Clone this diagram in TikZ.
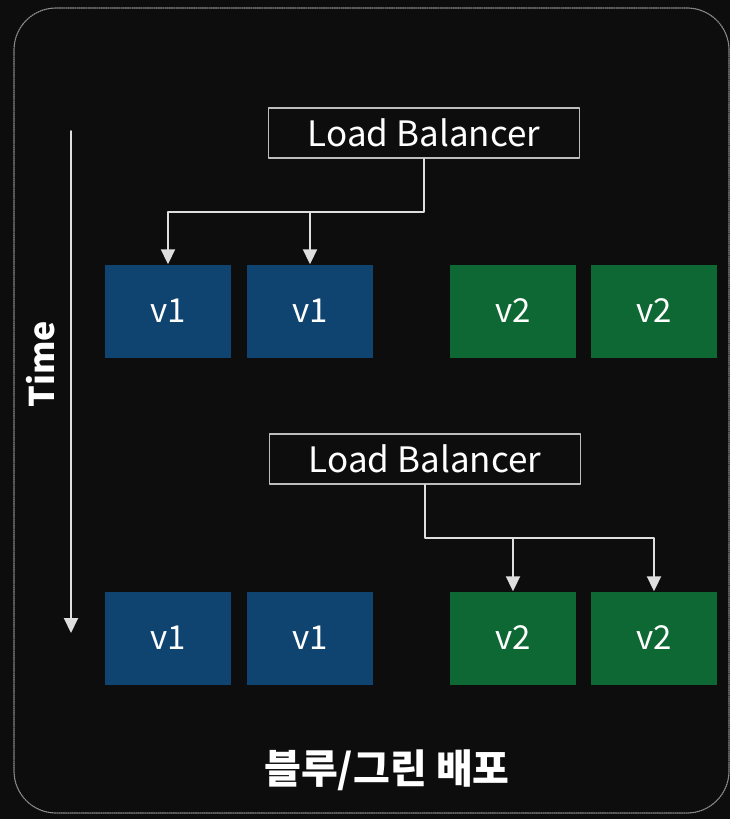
\documentclass[tikz,border=0pt]{standalone}
\usepackage{fontspec}
\setmainfont{Noto Sans CJK KR}
\usetikzlibrary{arrows.meta}

\definecolor{bgdark}{RGB}{13,13,13}
\definecolor{boxblue}{RGB}{15,68,112}
\definecolor{boxgreen}{RGB}{14,104,52}
\definecolor{wiregray}{RGB}{222,222,222}
\definecolor{framegray}{RGB}{140,140,140}

\tikzset{
  lbbox/.style={draw=wiregray!85!black, line width=1.5pt, minimum width=311pt, minimum height=50pt,
    inner sep=0pt, text=white, font=\fontsize{35}{40}\selectfont},
  verbox/.style={minimum width=126pt, minimum height=93pt, inner sep=0pt, text=white,
    font=\fontsize{33}{38}\selectfont},
  wire/.style={wiregray, line width=1.9pt}
}

\begin{document}
\begin{tikzpicture}[x=1pt, y=-1pt, line cap=round, line join=round, >={Triangle[width=14pt,length=15pt]}]
	% Canvas and viewing box
	\fill[bgdark] (0,0) rectangle (730,819);
	\useasboundingbox (0,0) rectangle (730,819);
	
	% Dotted frame round the whole picture
	\draw[framegray, line width=1.2pt, densely dotted, rounded corners=42pt] (14,8) rectangle (729,813);
	
	% Time axis
	\coordinate (t0) at (71,131);
	\coordinate (t1) at (71,633);
	\draw[wire, ->] (t0) -- (t1);
	\node[rotate=90, text=white, font=\fontsize{34}{38}\selectfont\bfseries] (time) at (41,364) {Time};
	
	% Load balancers
	\node[lbbox] (lb1) at (424,133) {Load Balancer};
	\node[lbbox] (lb2) at (425,459) {Load Balancer};
	
	% Versions: top row before, bottom row after the switch
	\foreach \r/\y in {1/311, 2/638} {
		\node[verbox, fill=boxblue] (b\r1) at (168,\y) {v1};
		\node[verbox, fill=boxblue] (b\r2) at (310,\y) {v1};
		\node[verbox, fill=boxgreen] (g\r1) at (513,\y) {v2};
		\node[verbox, fill=boxgreen] (g\r2) at (654,\y) {v2};
	}
	
	% Traffic to blue
	\coordinate (j1) at (b11.north |- 0,212);
	\draw[wire, ->] (lb1.south) |- (j1) -- (b11.north);
	\draw[wire, ->] (b12.north |- j1) -- (b12.north);
	
	% Traffic to green
	\coordinate (j2) at (g22.north |- 0,538);
	\draw[wire, ->] (lb2.south) |- (j2) -- (g22.north);
	\draw[wire, ->] (g21.north |- j2) -- (g21.north);
	
	% Caption
	\node[text=white, font=\fontsize{40}{46}\selectfont\bfseries] (cap) at (387,770) {블루/그린 배포};
	
\end{tikzpicture}
\end{document}
